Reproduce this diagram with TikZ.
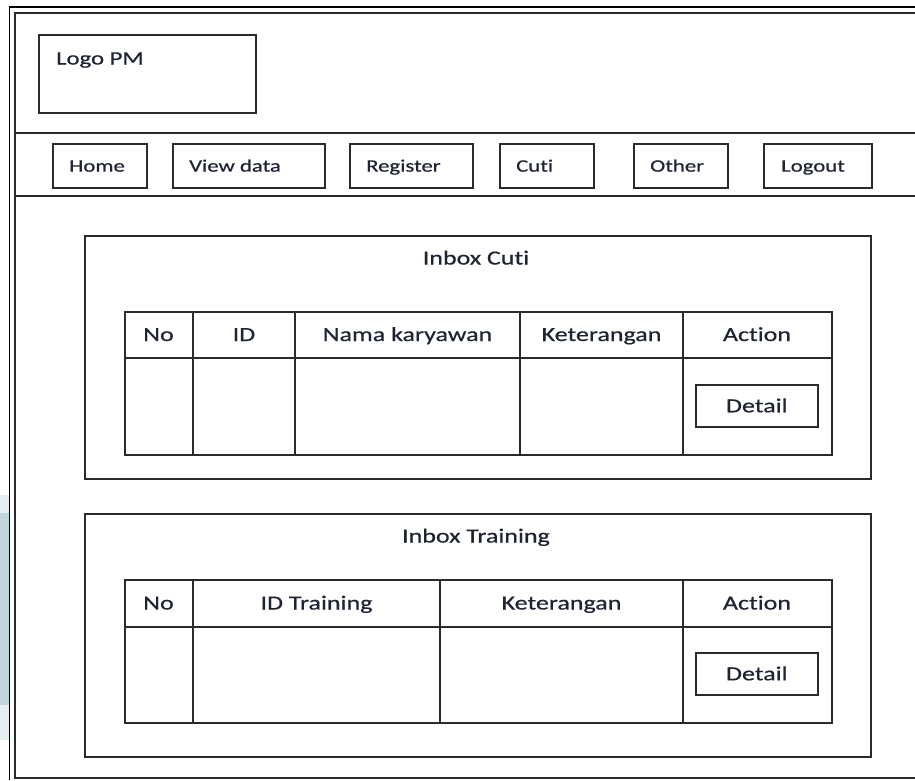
\documentclass[tikz,border=0pt]{standalone}
\usepackage{fontspec}
\setmainfont[FakeStretch=1.3,FakeBold=0.6,Ligatures={NoCommon}]{Carlito}
\definecolor{ink}{HTML}{2B2B2B}
\definecolor{txtc}{HTML}{1E2433}
\definecolor{sideblue}{HTML}{C3D5DC}
\definecolor{sidelight}{HTML}{E6EEF1}
\begin{document}
\begin{tikzpicture}[x=1pt,y=-1pt,
  ln/.style={draw=ink, line width=1.6pt},
  box/.style={ln, rectangle, inner sep=0pt, anchor=north west},
  lbl/.style={text=txtc, inner sep=0pt, text height=13pt, text depth=0pt, font=\fontsize{20}{24}\selectfont},
  navlbl/.style={text=txtc, inner sep=0pt, anchor=west, text height=11.3pt, text depth=0pt, font=\fontsize{17.5}{21}\selectfont},
  navbtn/.style={box, minimum height=44pt}
]
\useasboundingbox (0,0) rectangle (915,780);
% side artifact
\fill[sidelight] (0,495) rectangle (8.5,513);
\fill[sideblue] (0,513) rectangle (8.5,705);
\fill[sidelight] (0,705) rectangle (8.5,740);
% outer double frame
\draw[draw=black, line width=1.8pt] (9.5,780) -- (9.5,7) -- (915,7);
\draw[draw=ink, line width=1.6pt] (915,778) -- (15,778) -- (15,13) -- (915,13);
% header separators
\draw[ln] (15,133) -- (915,133);
\draw[ln] (15,196) -- (915,196);
% logo
\node[box, minimum width=217pt, minimum height=78pt] (logo) at (38,34) {};
\node[lbl, anchor=west, font=\fontsize{19}{23}\selectfont] (logotxt) at (56,58) {Logo PM};
% nav buttons
\node[navbtn, minimum width=94pt] (home) at (52,143) {};
\node[navlbl] (homet) at (69,166) {Home};
\node[navbtn, minimum width=152pt] (view) at (172,143) {};
\node[navlbl] (viewt) at (189,166) {View data};
\node[navbtn, minimum width=123pt] (reg) at (349,143) {};
\node[navlbl] (regt) at (366,166) {Register};
\node[navbtn, minimum width=94pt] (cuti) at (499,143) {};
\node[navlbl] (cutit) at (516,166) {Cuti};
\node[navbtn, minimum width=94pt] (other) at (633,143) {};
\node[navlbl] (othert) at (650,166) {Other};
\node[navbtn, minimum width=108pt] (logout) at (763,143) {};
\node[navlbl] (logoutt) at (781,166) {Logout};
% Inbox Cuti
\node[box, minimum width=786pt, minimum height=243pt] (ic) at (84,235) {};
\node[lbl] (ict) at (476,258) {Inbox Cuti};
\node[box, minimum width=707pt, minimum height=143pt] (t1) at (124,311) {};
\draw[ln] (124,358) -- (831,358);
\foreach \cx in {193,295,520,683} \draw[ln] (\cx,311) -- (\cx,454);
\node[lbl] (t1a) at (158.5,334.5) {No};
\node[lbl] (t1b) at (244,334.5) {ID};
\node[lbl] (t1c) at (407.5,334.5) {Nama karyawan};
\node[lbl] (t1d) at (601.5,334.5) {Keterangan};
\node[lbl] (t1e) at (757,334.5) {Action};
\node[box, minimum width=122pt, minimum height=42pt] (d1) at (695,384) {};
\node[lbl] (d1t) at (d1.center) {Detail};
% Inbox Training
\node[box, minimum width=786pt, minimum height=243pt] (it) at (84,513) {};
\node[lbl] (itt) at (476,536) {Inbox Training};
\node[box, minimum width=707pt, minimum height=143pt] (t2) at (124,579) {};
\draw[ln] (124,627) -- (831,627);
\foreach \cx in {193,440,683} \draw[ln] (\cx,579) -- (\cx,722);
\node[lbl] (t2a) at (158.5,603) {No};
\node[lbl] (t2b) at (316.5,603) {ID Training};
\node[lbl] (t2c) at (561.5,603) {Keterangan};
\node[lbl] (t2d) at (757,603) {Action};
\node[box, minimum width=122pt, minimum height=42pt] (d2) at (695,652) {};
\node[lbl] (d2t) at (d2.center) {Detail};
\end{tikzpicture}
\end{document}
